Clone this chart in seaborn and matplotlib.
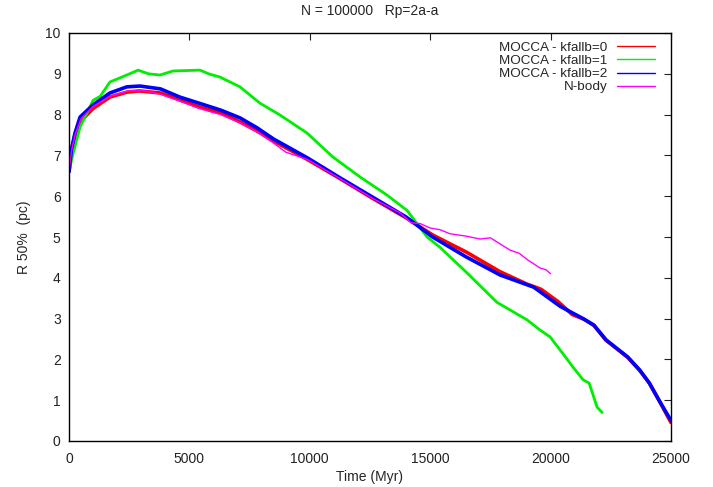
import matplotlib
matplotlib.use("Agg")
import matplotlib.pyplot as plt
import seaborn as sns
import pandas as pd

# ---- data ----
t_k0 = [0, 100, 250, 500, 1000, 1700, 2400, 2900, 3800, 4600, 5400, 6300, 7100, 7800, 8500,
        9900, 11200, 12600, 14000, 15100, 16500, 17900, 19000, 19600, 20300, 20900, 21400,
        21800, 22300, 23200, 23700, 24100, 24500, 25000]
r_k0 = [6.6, 7.1, 7.5, 7.85, 8.15, 8.43, 8.55, 8.58, 8.53, 8.36, 8.19, 8.04, 7.82, 7.6, 7.35,
        6.9, 6.45, 5.95, 5.47, 5.05, 4.63, 4.15, 3.85, 3.72, 3.42, 3.1, 2.98,
        2.83, 2.47, 2.05, 1.73, 1.42, 1.0, 0.45]

t_k1 = [0, 150, 460, 800, 1000, 1300, 1700, 2400, 2870, 3300, 3780, 4320, 4900, 5440, 5800,
        6270, 7100, 7930, 8760, 9880, 10960, 12090, 13200, 14040, 14870, 15400, 16530, 17770,
        19020, 19560, 19980, 20500, 20930, 21350, 21600, 21930, 22140]
r_k1 = [6.6, 7.0, 7.7, 8.1, 8.35, 8.45, 8.8, 8.97, 9.09, 9.0, 8.97, 9.07, 9.08, 9.09, 9.0,
        8.92, 8.68, 8.28, 7.99, 7.55, 6.96, 6.47, 6.03, 5.65, 5.0, 4.75, 4.12, 3.4,
        2.97, 2.72, 2.55, 2.15, 1.81, 1.5, 1.42, 0.83, 0.7]

t_k2 = [0, 100, 250, 460, 1000, 1700, 2400, 2950, 3800, 4600, 5400, 6300, 7100, 7800, 8500,
        9900, 11200, 12600, 14000, 15100, 16500, 17900, 19300, 20400, 21350, 21800, 22300,
        23200, 23700, 24100, 24500, 25000]
r_k2 = [6.6, 7.15, 7.55, 7.94, 8.24, 8.53, 8.68, 8.70, 8.63, 8.43, 8.28, 8.11, 7.92, 7.68, 7.4,
        6.94, 6.47, 5.98, 5.49, 5.0, 4.51, 4.07, 3.77, 3.3, 3.0, 2.84, 2.48,
        2.06, 1.74, 1.42, 1.0, 0.5]

t_nb = [0, 100, 250, 500, 1000, 1700, 2400, 3000, 3800, 4600, 5400, 6300, 7100, 7800, 8500,
        9000, 9900, 11200, 12600, 13750, 14200, 14580, 15000, 15400, 15820, 16500, 17070,
        17500, 17770, 18310, 18700, 19020, 19560, 19800, 20000]
r_nb = [6.6, 7.1, 7.5, 7.9, 8.2, 8.45, 8.57, 8.6, 8.5, 8.33, 8.15, 8.0, 7.8, 7.58, 7.3,
        7.08, 6.9, 6.45, 5.95, 5.59, 5.35, 5.33, 5.22, 5.18, 5.08, 5.02, 4.95,
        4.98, 4.88, 4.68, 4.6, 4.45, 4.24, 4.2, 4.1]

labels = ["MOCCA - kfallb=0", "MOCCA - kfallb=1", "MOCCA - kfallb=2", "N-body"]
colors = ["#ff0000", "#00ee00", "#0000ff", "#ff00ff"]
widths = [2.6, 2.0, 2.6, 1.0]
series = [(t_k0, r_k0), (t_k1, r_k1), (t_k2, r_k2), (t_nb, r_nb)]

x_ticks = [0, 5000, 10000, 15000, 20000, 25000]
y_ticks = list(range(0, 11))

# ---- plot ----
sns.set_style("white")
plt.rcParams["font.family"] = ["Liberation Sans", "DejaVu Sans"]

fig = plt.figure(figsize=(7.13, 4.87), dpi=100)
ax = fig.add_axes([69 / 713, 1 - 441 / 487, (671 - 69) / 713, (441 - 33) / 487])

for (tt, rr), lab, col, lw in zip(series, labels, colors, widths):
    df = pd.DataFrame({"t": tt, "r": rr})
    sns.lineplot(data=df, x="t", y="r", ax=ax, color=col, linewidth=lw, label=lab,
                 estimator=None, sort=False)

ax.set_xlim(0, 25000)
ax.set_ylim(0, 10)
ax.set_xticks(x_ticks)
ax.set_yticks(y_ticks)
ax.tick_params(direction="in", top=True, right=True, length=5, width=0.8,
               labelsize=10, colors="#222222", pad=6)
ax.tick_params(axis="x", pad=8)
for s in ax.spines.values():
    s.set_visible(True)
    s.set_color("black")
    s.set_linewidth(1.0)

ax.set_xlabel("Time (Myr)", fontsize=10, labelpad=3)
ax.set_ylabel("R 50%  (pc)", fontsize=10, labelpad=10)
ax.set_title("N = 100000   Rp=2a-a", fontsize=10, pad=13)

leg = ax.legend(loc="upper right", frameon=False, markerfirst=False, fontsize=9.7,
                handlelength=2.8, handletextpad=0.7, labelspacing=0.05,
                borderaxespad=0.0, bbox_to_anchor=(0.9817, 0.992))
for h in leg.get_lines():
    h.set_linewidth(1.0)

fig.savefig("out.png", dpi=100)
